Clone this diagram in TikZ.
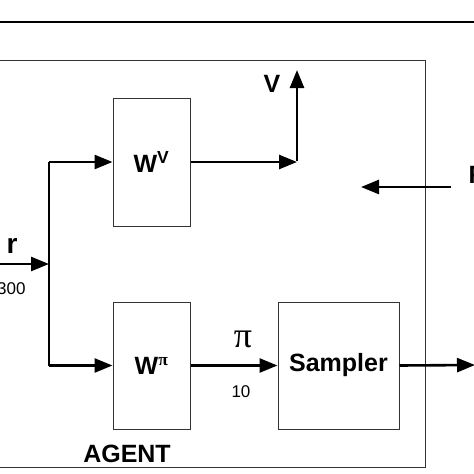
\documentclass[tikz,border=0pt]{standalone}
\usepackage{fontspec}
\setmainfont{Liberation Sans}
\newfontfamily\pifont{Liberation Serif}
\usetikzlibrary{arrows.meta, positioning}

\tikzset{
  block/.style={draw=black!80, line width=1pt, inner sep=0pt},
  flow/.style={line width=2.6pt, -{Triangle[length=18pt,width=14pt]}},
  big/.style={font=\fontsize{25}{29}\selectfont\bfseries},
  small/.style={font=\fontsize{17}{20}\selectfont},
}

\begin{document}
\begin{tikzpicture}[x=1pt, y=-1pt]
        \useasboundingbox (0,0) rectangle (474,474);
        \clip (0,0) rectangle (474,474);
        \draw[line width=2.2pt] (0,22) -- (474,22);

        % agent frame
        \node[block, minimum width=440pt, minimum height=407pt] (agent) at (205,263.5) {};
        \node[big, anchor=base] (agentlbl) at (127,462) {AGENT};

        \node[block, big, minimum width=77pt, minimum height=128pt] (wv) at (151.5,162) {W\textsuperscript{V}};
        \node[block, big, minimum width=77pt, minimum height=127pt] (wpi) at (151.5,365.5) {W\textsuperscript{\pifont π}};
        \node[block, big, minimum width=121pt, minimum height=127pt] (sampler) at (338.5,365.5) {Sampler};

        \coordinate (in) at (-10,264);
        \coordinate (split) at (49,264);
        \coordinate (vcorner) at (297,162);
        \coordinate (vtop) at (297,70);
        \coordinate (out) at (475,365);
        \coordinate (fb) at (451,187);
        \coordinate (fbend) at (361,187);

        \draw[flow] (in) -- (split);
        \draw[line width=2.6pt] (split |- wv.west) -- (split |- wpi.west);
        \draw[flow] (split |- wv.west) -- (wv.west);
        \draw[flow] (split |- wpi.west) -- (wpi.west);
        \draw[flow] (wv.east) -- (vcorner);
        \draw[flow] ([yshift=1.3pt]vcorner) -- (vtop);
        \draw[flow] (wpi.east) -- (sampler.west);
        \draw[flow] (sampler.east) -- (out);
        \draw[flow] (fb) -- (fbend);

        \node[font=\fontsize{28}{32}\selectfont\bfseries] (rlbl) at (12,246) {r};
        \node[small, anchor=east] (rdim) at (29,289) {300};
        \node[big] (vlbl) at (272,84) {V};
        \node[font=\fontsize{36}{40}\selectfont\pifont] (pilbl) at (243,339) {π};
        \node[small] (pidim) at (241,392) {10};
        \node[big, anchor=west] (fblbl) at (465,175) {R};
    \end{tikzpicture}
\end{document}
